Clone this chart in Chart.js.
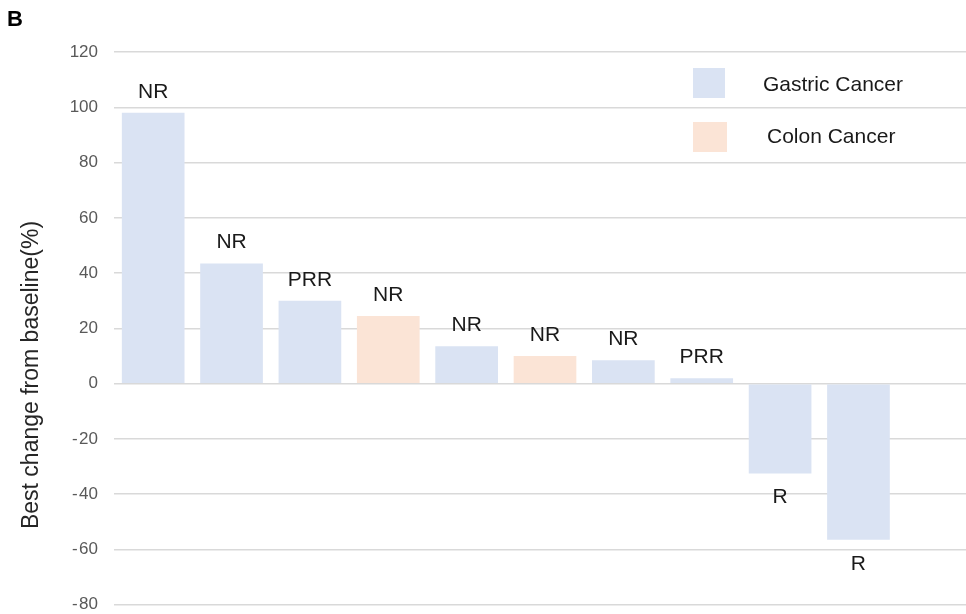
<!DOCTYPE html>
<html>
<head>
<meta charset="utf-8">
<script src="https://cdn.jsdelivr.net/npm/chart.js@4"></script>
<style>
  html, body { margin: 0; padding: 0; background: #ffffff; overflow: hidden; }
  #wrap { width: 966px; height: 614px; overflow: hidden; position: relative; }
  canvas { display: block; }
</style>
</head>
<body>
<div id="wrap"><canvas id="c" width="976" height="631"></canvas></div>
<script>
// ---- data ----
const patients   = ['1', '2', '3', '4', '5', '6', '7', '8', '9', '10', ''];
const bestChange = [98, 43.5, 30, 24.5, 13.5, 10, 8.5, 2, -32.5, -56.5, null];
const cancerType = ['Gastric', 'Gastric', 'Gastric', 'Colon', 'Gastric', 'Colon', 'Gastric', 'Gastric', 'Gastric', 'Gastric', null];
const responses  = ['NR', 'NR', 'PRR', 'NR', 'NR', 'NR', 'NR', 'PRR', 'R', 'R', null];
const yTicks     = [-80, -60, -40, -20, 0, 20, 40, 60, 80, 100, 120];
const seriesNames  = ['Gastric Cancer', 'Colon Cancer'];
const seriesKeys   = ['Gastric', 'Colon'];
const seriesColors = ['#dae3f3', '#fbe4d6'];
const yTitle = 'Best change from baseline(%)';
const panelLetter = 'B';

const FONT = '"Liberation Sans", Arial, sans-serif';

const datasets = seriesKeys.map((k, i) => ({
  label: seriesNames[i],
  data: bestChange.map((v, j) => cancerType[j] === k ? v : null),
  backgroundColor: seriesColors[i],
  borderWidth: 0,
  grouped: false,
  barPercentage: 0.8,
  categoryPercentage: 1.0
}));

const decor = {
  id: 'decor',
  afterDatasetsDraw(chart) {
    const ctx = chart.ctx;
    const x = chart.scales.x, y = chart.scales.y;
    ctx.save();
    ctx.font = '21px ' + FONT;
    ctx.fillStyle = '#1a1a1a';
    ctx.textAlign = 'center';
    ctx.textBaseline = 'middle';
    bestChange.forEach((v, i) => {
      if (v === null || !responses[i]) return;
      const px = x.getPixelForValue(i);
      const py = y.getPixelForValue(v);
      ctx.fillText(responses[i], px, v >= 0 ? py - 21 : py + 24);
    });
    ctx.restore();
  },
  afterDraw(chart) {
    const ctx = chart.ctx;
    ctx.save();
    ctx.font = 'bold 22px ' + FONT;
    ctx.fillStyle = '#000';
    ctx.textAlign = 'left';
    ctx.textBaseline = 'middle';
    ctx.fillText(panelLetter, 7, 20);
    ctx.save();
    ctx.translate(32, 375);
    ctx.rotate(-Math.PI / 2);
    ctx.font = '23px ' + FONT;
    ctx.fillStyle = '#262626';
    ctx.textAlign = 'center';
    ctx.textBaseline = 'middle';
    ctx.fillText(yTitle, 0, 0);
    ctx.restore();
    const items = [
      {box: [693, 68, 32, 30], tx: 763, ty: 85},
      {box: [693, 122, 34, 30], tx: 767, ty: 137}
    ];
    chart.data.datasets.forEach((ds, i) => {
      const it = items[i];
      ctx.fillStyle = ds.backgroundColor;
      ctx.fillRect(it.box[0], it.box[1], it.box[2], it.box[3]);
      ctx.font = '21px ' + FONT;
      ctx.fillStyle = '#1a1a1a';
      ctx.textAlign = 'left';
      ctx.textBaseline = 'middle';
      ctx.fillText(ds.label, it.tx, it.ty);
    });
    ctx.restore();
  }
};

new Chart(document.getElementById('c'), {
  type: 'bar',
  data: { labels: patients, datasets },
  options: {
    responsive: false,
    animation: false,
    devicePixelRatio: 1,
    layout: { padding: { top: 52, bottom: 10, left: 0, right: 0 } },
    plugins: { legend: { display: false }, tooltip: { enabled: false } },
    scales: {
      x: {
        afterFit(scale) { scale.height = 0; },
        grid: { display: false },
        border: { display: false },
        ticks: { display: false }
      },
      y: {
        min: -80, max: 120,
        afterFit(scale) { scale.width = 114; },
        afterBuildTicks(scale) { scale.ticks = yTicks.map(v => ({ value: v })); },
        grid: { color: '#d9d9d9', lineWidth: 1.5, drawTicks: false },
        border: { display: false },
        ticks: {
          padding: 16,
          color: '#595959',
          font: { family: FONT, size: 17 },
          callback: v => (v < 0 ? '-\u200a' + Math.abs(v) : String(v))
        }
      }
    }
  },
  plugins: [decor]
});
</script>
</body>
</html>
